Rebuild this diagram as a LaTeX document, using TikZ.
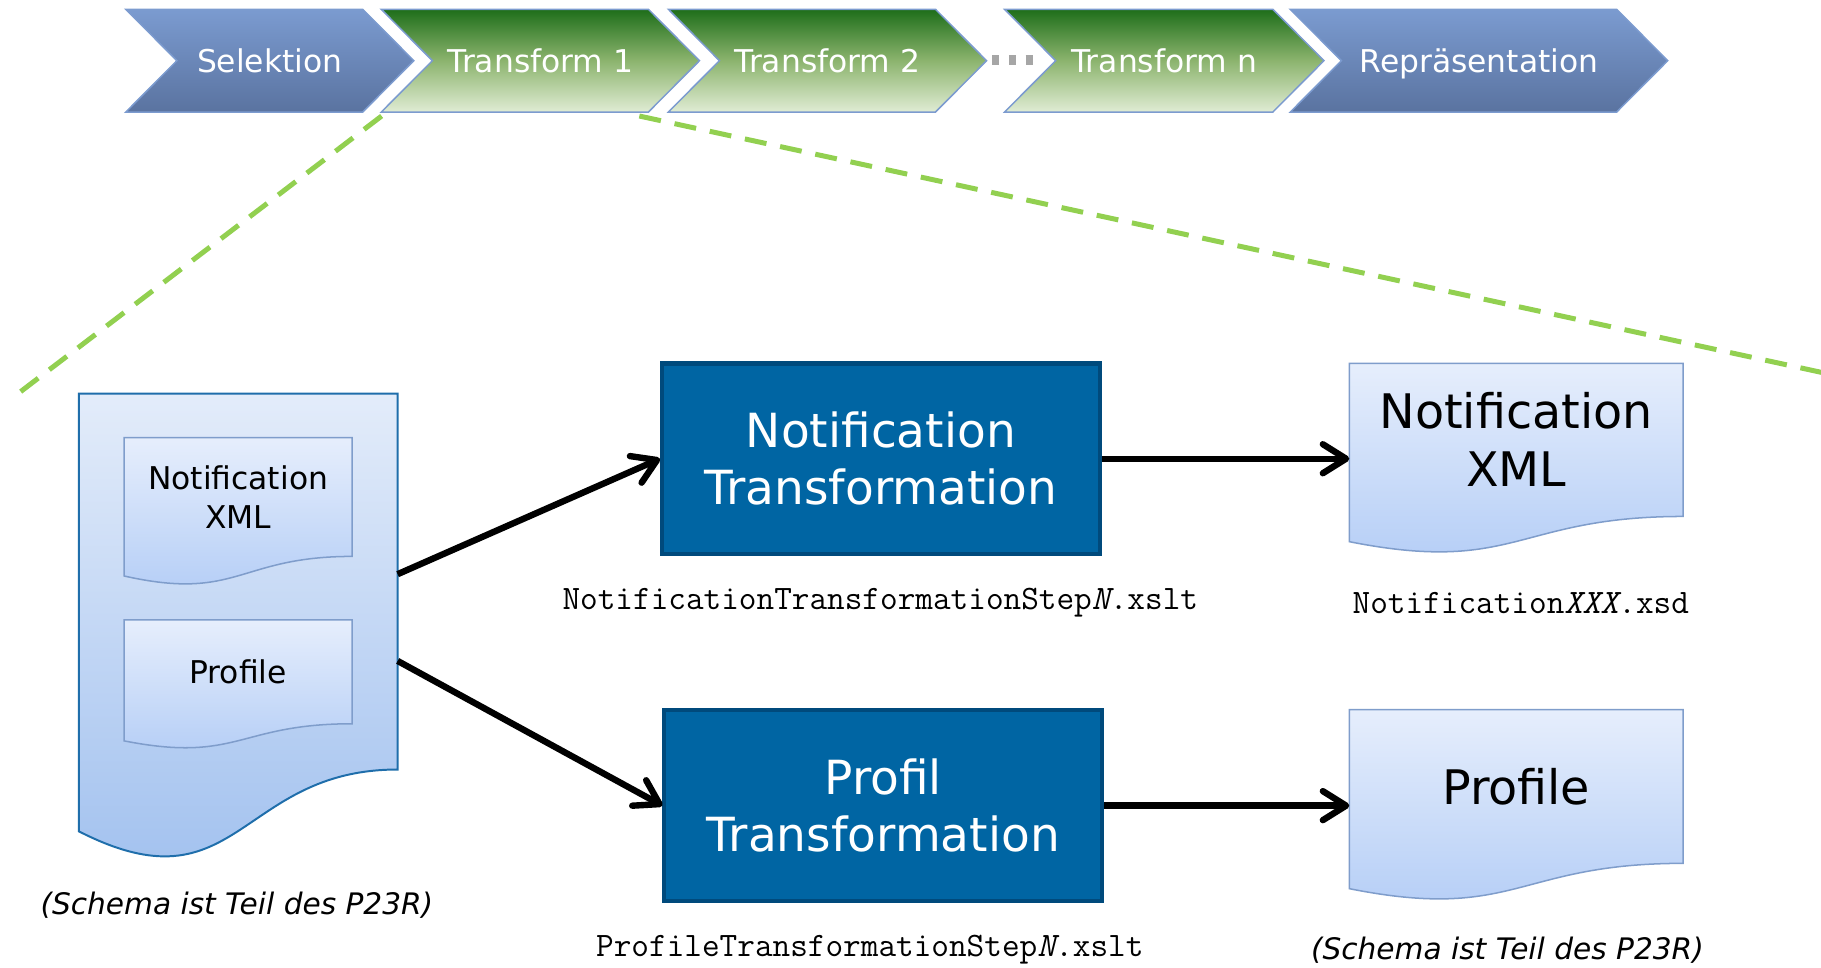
\documentclass[tikz,border=0pt]{standalone}
\usepackage{fontspec}
\setmainfont{DejaVu Sans}
\usepackage{xcolor}
\usepackage{tikz}
\usetikzlibrary{arrows.meta,calc,backgrounds}

\definecolor{chevline}{HTML}{7C9BCF}
\definecolor{chevbluetop}{HTML}{7B9BD0}
\definecolor{chevbluebot}{HTML}{5A73A0}
\definecolor{chevgreentop}{HTML}{1E6E1A}
\definecolor{chevgreenmid}{HTML}{8CB46E}
\definecolor{chevgreenbot}{HTML}{E0ECD4}
\definecolor{docline}{HTML}{7F9DCB}
\definecolor{doctop}{HTML}{E6EEFC}
\definecolor{docbot}{HTML}{B2CCF6}
\definecolor{bigdocline}{HTML}{1F6EAB}
\definecolor{bigdoctop}{HTML}{E3ECFA}
\definecolor{bigdocbot}{HTML}{9DBEEE}
\definecolor{boxfill}{HTML}{0065A3}
\definecolor{boxline}{HTML}{004A7C}
\definecolor{lupegreen}{HTML}{92D050}
\definecolor{dotgray}{HTML}{A6A6A6}

% document outline round a node: the wave hangs below the node
\newcommand{\docshape}[2]{%
  \begin{scope}[on background layer]
  \path[#1] let \p1=(#2.north west), \p2=(#2.south east) in
    (\p1) -- (\x2,\y1) -- (\p2)
    .. controls (#2.south) and ({(\x1+\x2)/2},{\y2-0.381*(\y1-\y2)})
    .. (\x1,{\y2-0.1646*(\y1-\y2)}) -- cycle;
  \end{scope}}

\begin{document}
\begin{tikzpicture}[x=1pt,y=-1pt,
  chevron/.style={draw=chevline,line width=1.3pt},
  chevblue/.style={chevron,top color=chevbluetop,bottom color=chevbluebot},
  chevgreen/.style={chevron,top color=chevgreentop,bottom color=chevgreenbot,middle color=chevgreenmid},
  chevtext/.style={text=white,text height=20pt,text depth=0pt,font=\fontsize{27}{33}\selectfont},
  docnode/.style={anchor=north west,inner sep=0pt,align=center,font=\fontsize{27}{33}\selectfont},
  bigtext/.style={font=\fontsize{41}{50}\selectfont},
  docfill/.style={draw=docline,line width=1.3pt,top color=doctop,bottom color=docbot},
  bigdocfill/.style={draw=bigdocline,line width=1.7pt,top color=bigdoctop,bottom color=bigdocbot},
  trafo/.style={draw=boxline,fill=boxfill,line width=3.5pt,minimum width=377pt,minimum height=164pt,
    text=white,align=center,font=\fontsize{40.5}{49}\selectfont},
  pfeil/.style={draw,line width=5.5pt,-{Straight Barb[length=20pt,width=25pt,round]}},
  dateiname/.style={font=\ttfamily\fontsize{29.5}{34}\selectfont},
  hinweis/.style={font=\itshape\fontsize{25.5}{30}\selectfont},
  lupe/.style={draw=lupegreen,line width=4.3pt,dash pattern=on 19pt off 12pt},
  dots/.style={draw=dotgray,line width=8.6pt,dash pattern=on 6pt off 8.4pt}]
  \useasboundingbox (0,0) rectangle (1568,833);

  % zoom lines
  \coordinate (lupe-la) at (328.6,99.9);
  \coordinate (lupe-lb) at (15.8,338.7);
  \coordinate (lupe-ra) at (550.5,99.9);
  \coordinate (lupe-rb) at (1600,327.5);
  \draw[lupe] (lupe-la) -- (lupe-lb);
  \draw[lupe] (lupe-ra) -- (lupe-rb);

  % process chain
  \foreach \x/\w/\sty/\txt/\nm in {108.3/204/chevblue/Selektion/sel,
      328.3/230/chevgreen/Transform 1/tr1, 575.5/230/chevgreen/Transform 2/tr2,
      865/231/chevgreen/Transform n/trn, 1111/281/chevblue/Repräsentation/rep}
  {
    \path[\sty] (\x,8) -- ++(\w,0) -- ++(44,44.25) -- ++(-44,44.25) -- ++(-\w,0) -- ++(44,-44.25) -- cycle;
    \node[chevtext] (\nm) at ({\x+\w/2+22},52.25) {\txt};
  }
  \coordinate (dots-a) at (854.4,51.7);
  \coordinate (dots-b) at (889.2,51.7);
  \draw[dots] (dots-a) -- (dots-b);

  % input document
  \node[docnode,minimum width=274pt,minimum height=323.2pt] (sammeldoc) at (68,339) {};
  \docshape{bigdocfill}{sammeldoc}
  \node[docnode,minimum width=196pt,minimum height=101.9pt] (innotif) at (106.8,376.8) {Notification\\XML};
  \docshape{docfill}{innotif}
  \node[docnode,minimum width=196pt,minimum height=89pt] (inprof) at (106.8,533.8) {Profile};
  \docshape{docfill}{inprof}
  \node[hinweis] (hinweis1) at (204,779) {(Schema ist Teil des P23R)};

  % transformations
  \node[trafo] (nt) at (758.5,395) {Notification\\Transformation};
  \node[trafo] (pt) at (760.6,693.7) {Profil\\Transformation};
  \node[dateiname] (ntdatei) at (758,519) {NotificationTransformationStep\textit{N}.xslt};
  \node[dateiname] (ptdatei) at (749,818) {ProfileTransformationStep\textit{N}.xslt};

  % results
  \node[docnode,bigtext,minimum width=287pt,minimum height=131.5pt] (notifxml) at (1161.8,312.8) {Notification\\XML};
  \docshape{docfill}{notifxml}
  \node[docnode,bigtext,minimum width=287pt,minimum height=132pt] (profil) at (1161.8,611) {Profile};
  \docshape{docfill}{profil}
  \node[dateiname] (xsd) at (1309.5,519) {Notification\textit{XXX}.xsd};
  \node[hinweis] (hinweis2) at (1298,818) {(Schema ist Teil des P23R)};

  \draw[pfeil] ([yshift=6.4pt]sammeldoc.east) -- (nt.west);
  \draw[pfeil] ([yshift=-68.3pt]sammeldoc.east) -- (pt.west);
  \draw[pfeil] (nt.east) -- (nt.east -| notifxml.west);
  \draw[pfeil] (pt.east) -- (pt.east -| profil.west);
\end{tikzpicture}
\end{document}
